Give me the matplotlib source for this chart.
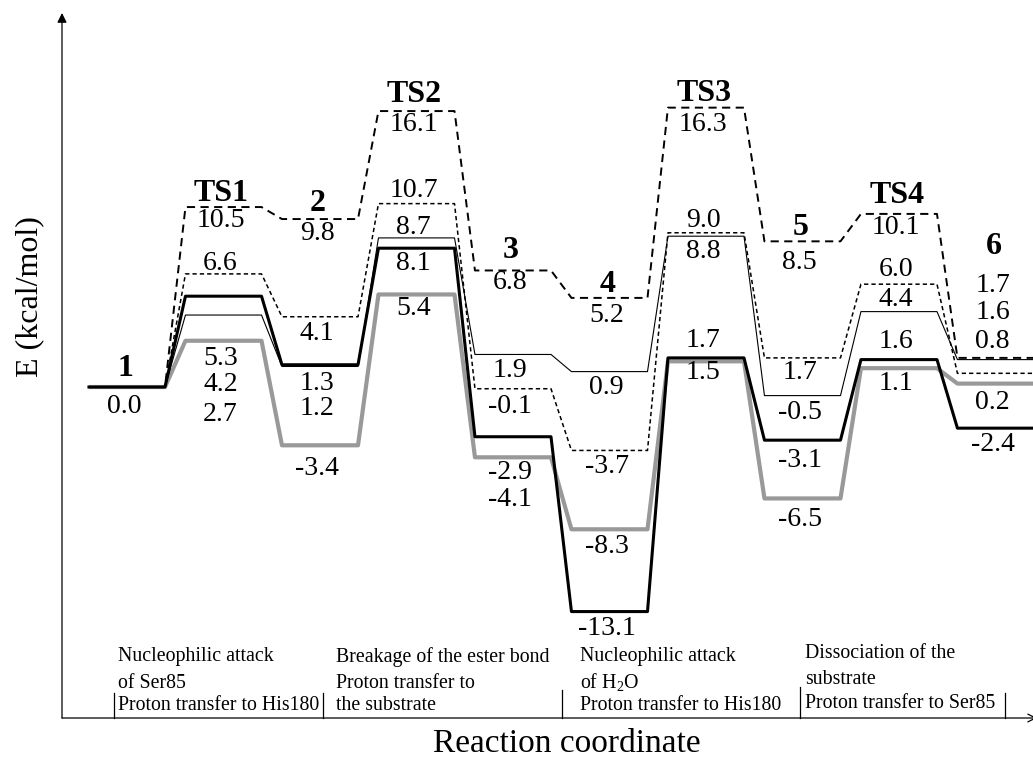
import matplotlib
matplotlib.use('Agg')
import matplotlib.pyplot as plt

plt.rcParams['font.family'] = ['Liberation Serif', 'DejaVu Serif']
plt.rcParams['mathtext.fontset'] = 'custom'
plt.rcParams['mathtext.rm'] = 'Liberation Serif'

# ---------------- data ----------------
states = ['1', 'TS1', '2', 'TS2', '3', '4', 'TS3', '5', 'TS4', '6']
e_dashed = [0.0, 10.5, 9.8, 16.1, 6.8, 5.2, 16.3, 8.5, 10.1, 1.7]
e_dotted = [0.0, 6.6, 4.1, 10.7, -0.1, -3.7, 9.0, 1.7, 6.0, 0.8]
e_thin = [0.0, 4.2, 1.2, 8.7, 1.9, 0.9, 8.8, -0.5, 4.4, 1.6]
e_thick = [0.0, 5.3, 1.3, 8.1, -2.9, -13.1, 1.7, -3.1, 1.6, -2.4]
e_gray = [0.0, 2.7, -3.4, 5.4, -4.1, -8.3, 1.5, -6.5, 1.1, 0.2]

step_texts = [
    ['Nucleophilic attack', 'of Ser85', 'Proton transfer to His180'],
    ['Breakage of the ester bond', 'Proton transfer to', 'the substrate'],
    ['Nucleophilic attack', r'of H$_\mathregular{2}$O', 'Proton transfer to His180'],
    ['Dissociation of the', 'substrate', 'Proton transfer to Ser85'],
]
y_label = 'E (kcal/mol)'
x_label = 'Reaction coordinate'

series = {
    'gray': e_gray,
    'thick': e_thick,
    'thin': e_thin,
    'dotted': e_dotted,
    'dashed': e_dashed,
}
styles = {
    'gray': dict(color='#999999', lw=3.0, solid_capstyle='butt', zorder=2),
    'thick': dict(color='black', lw=2.2, zorder=3),
    'thin': dict(color='black', lw=0.8, zorder=4),
    'dotted': dict(color='black', lw=1.1, dashes=(2.8, 2.0), zorder=5),
    'dashed': dict(color='black', lw=1.4, dashes=(4.2, 2.8), zorder=6),
}

# ---------------- figure ----------------
W, H = 1033, 760
fig = plt.figure(figsize=(W / 100, H / 100), dpi=100)
ax = fig.add_axes([0, 0, 1, 1])
ax.set_xlim(-1.316, 9.389)
ax.set_ylim(-21.76, 22.58)
ax.axis('off')

hw = 0.394
for key, vals in series.items():
    xs, ys = [], []
    for i, v in enumerate(vals):
        right = i + hw if i < len(vals) - 1 else i + 0.8
        xs += [i - hw, right]
        ys += [v, v]
    ax.plot(xs, ys, **styles[key])

# value labels: (series, state, y position)
label_layout = [
    ('thick', 0, -1.11),
    ('dashed', 1, 9.69), ('dotted', 1, 7.23), ('thick', 1, 1.69), ('thin', 1, 0.12), ('gray', 1, -1.63),
    ('dashed', 2, 8.93), ('dotted', 2, 3.15), ('thick', 2, 0.23), ('thin', 2, -1.28), ('gray', 2, -4.73),
    ('dashed', 3, 15.29), ('dotted', 3, 11.49), ('thin', 3, 9.33), ('thick', 3, 7.23), ('gray', 3, 4.61),
    ('dashed', 4, 6.07), ('thin', 4, 0.99), ('dotted', 4, -1.11), ('thick', 4, -4.96), ('gray', 4, -6.59),
    ('dashed', 5, 4.20), ('thin', 5, 0.0), ('dotted', 5, -4.61), ('gray', 5, -9.33), ('thick', 5, -14.06),
    ('dashed', 6, 15.29), ('dotted', 6, 9.74), ('thin', 6, 7.88), ('thick', 6, 2.74), ('gray', 6, 0.82),
    ('dashed', 7, 7.29), ('dotted', 7, 0.82), ('thin', 7, -1.46), ('thick', 7, -4.26), ('gray', 7, -7.70),
    ('dashed', 8, 9.28), ('dotted', 8, 6.83), ('thin', 8, 5.08), ('thick', 8, 2.63), ('gray', 8, 0.23),
    ('dashed', 9, 5.95), ('thin', 9, 4.32), ('dotted', 9, 2.63), ('gray', 9, -0.88), ('thick', 9, -3.38),
]
for key, i, ypos in label_layout:
    ax.text(i - 0.03, ypos, f'{series[key][i]:.1f}', ha='center', va='center',
            fontsize=20, zorder=10)

state_label_y = [1.11, 11.30, 10.70, 17.05, 7.99, 6.01, 17.15, 9.33, 11.15, 8.17]
for i, (name, ypos) in enumerate(zip(states, state_label_y)):
    ax.text(i - 0.02, ypos, name, ha='center', va='center', fontsize=23,
            fontweight='bold', zorder=10)

# axes with arrows (in pixel fractions)
def fx(px):
    return px / W

def fy(py):
    return 1 - py / H

ax.annotate('', xy=(fx(62), fy(13)), xytext=(fx(62), fy(718)), xycoords='axes fraction',
            arrowprops=dict(arrowstyle='-|>', lw=0.9, color='black', mutation_scale=14,
                            shrinkA=0, shrinkB=0))
ax.annotate('', xy=(fx(1037), fy(718)), xytext=(fx(62), fy(718)), xycoords='axes fraction',
            arrowprops=dict(arrowstyle='->', lw=0.9, color='black', mutation_scale=14,
                            shrinkA=0, shrinkB=0))

ax.text(fx(30), fy(297), y_label, rotation=90, ha='center', va='center',
        fontsize=23, transform=ax.transAxes)
ax.text(fx(567), fy(744), x_label, ha='center', va='center', fontsize=24,
        transform=ax.transAxes)

# step descriptions
block_x = [118, 336, 580, 805]
block_y = [[657, 683, 706], [657, 683, 706], [657, 683, 706], [654, 679, 704]]
for texts, bx, bys in zip(step_texts, block_x, block_y):
    for t, by in zip(texts, bys):
        ax.text(fx(bx), fy(by), t, ha='left', va='center', fontsize=14.3,
                transform=ax.transAxes)

bars = [(114, 693), (323, 693), (562, 690), (800, 687), (1005, 693)]
for bx, btop in bars:
    ax.plot([fx(bx), fx(bx)], [fy(718), fy(btop)], color='black', lw=0.9,
            transform=ax.transAxes)

fig.savefig('out.png', dpi=100)
